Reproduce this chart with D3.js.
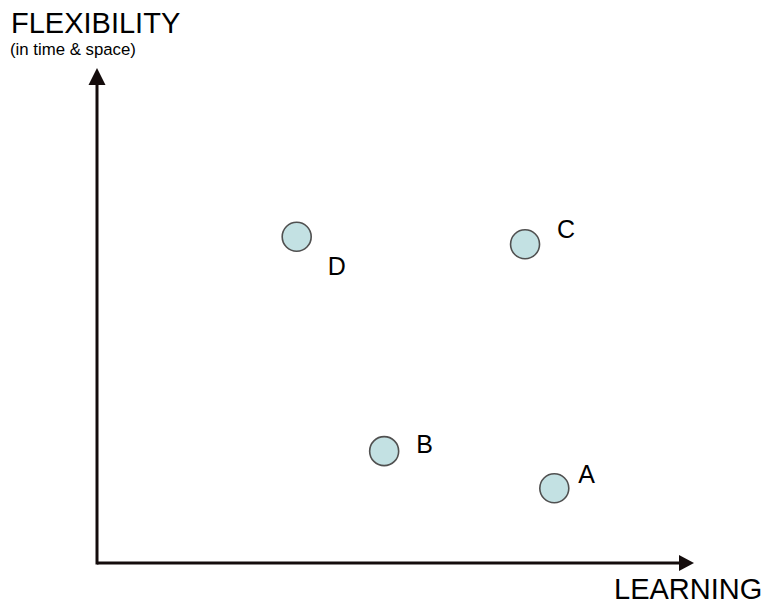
<!DOCTYPE html>
<html>
<head>
<meta charset="utf-8">
<script src="https://cdn.jsdelivr.net/npm/d3@7"></script>
<style>
  html, body { margin: 0; padding: 0; background: #fff; }
  svg { display: block; font-family: "Liberation Sans", Arial, sans-serif; }
</style>
</head>
<body>
<svg id="chart" width="766" height="604"></svg>
<script>
// Data
const labels = ["A", "B", "C", "D"];
const learning = [76.6, 48.1, 71.7, 33.45];
const flexibility = [15.1, 22.6, 64.4, 65.9];
const xTitle = "LEARNING";
const yTitle = "FLEXIBILITY";
const ySubtitle = "(in time & space)";

// Layout (label offsets from each point, px)
const labelDx = [24, 32, 32, 31];
const labelDy = [-5, 2, -6, 38];

const svg = d3.select("#chart");
const x = d3.scaleLinear().domain([0, 100]).range([97, 694]);
const y = d3.scaleLinear().domain([0, 100]).range([563, 68]);

const ink = "#140c0c";

// Axes lines
svg.append("line")
  .attr("x1", x(0)).attr("y1", y(0))
  .attr("x2", x(100) - 12).attr("y2", y(0))
  .attr("stroke", ink).attr("stroke-width", 3);
svg.append("line")
  .attr("x1", x(0)).attr("y1", y(0) + 1.5)
  .attr("x2", x(0)).attr("y2", y(100) + 12)
  .attr("stroke", ink).attr("stroke-width", 3);

// Arrowheads
svg.append("path")
  .attr("d", `M${x(100)},${y(0)} L${x(100) - 15},${y(0) - 8} L${x(100) - 15},${y(0) + 8} Z`)
  .attr("fill", ink);
svg.append("path")
  .attr("d", `M${x(0)},${y(100)} L${x(0) - 8.5},${y(100) + 17} L${x(0) + 8.5},${y(100) + 17} Z`)
  .attr("fill", ink);

// Titles
svg.append("text")
  .attr("x", 614).attr("y", 599)
  .attr("font-size", 29).attr("fill", "#000")
  .text(xTitle);
svg.append("text")
  .attr("x", 11).attr("y", 33)
  .attr("font-size", 29).attr("fill", "#000")
  .text(yTitle);
svg.append("text")
  .attr("x", 10).attr("y", 55)
  .attr("font-size", 16.8).attr("fill", "#000")
  .text(ySubtitle);

// Points
const data = labels.map((l, i) => ({ label: l, x: learning[i], y: flexibility[i], dx: labelDx[i], dy: labelDy[i] }));

svg.selectAll("circle.pt").data(data).enter().append("circle")
  .attr("class", "pt")
  .attr("cx", d => x(d.x)).attr("cy", d => y(d.y))
  .attr("r", 14.5)
  .attr("fill", "#c3e1e3")
  .attr("stroke", "#505050")
  .attr("stroke-width", 1.6);

svg.selectAll("text.lbl").data(data).enter().append("text")
  .attr("class", "lbl")
  .attr("x", d => x(d.x) + d.dx)
  .attr("y", d => y(d.y) + d.dy)
  .attr("font-size", 25).attr("fill", "#000")
  .text(d => d.label);
</script>
</body>
</html>
